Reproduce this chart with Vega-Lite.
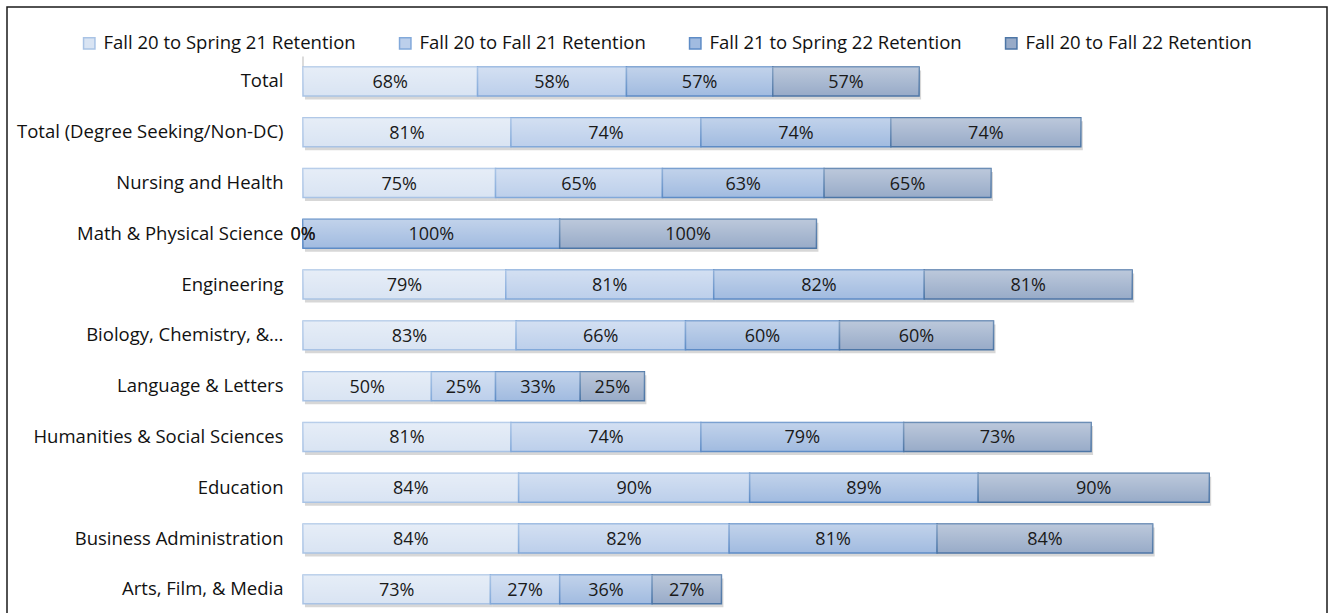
{
  "$schema": "https://vega.github.io/schema/vega-lite/v6.json",
  "width": 1320,
  "height": 638.5,
  "autosize": {"type": "none"},
  "padding": {"left": 7, "top": 7, "right": 3, "bottom": 0},
  "background": "white",
  "config": {
    "view": {"stroke": "#1a1a1a", "strokeWidth": 1.5},
    "font": "Open Sans"
  },
  "data": {
    "values": [
      {"cat": "Total", "series": "Fall 20 to Spring 21 Retention", "s": 1, "v": 0.68},
      {"cat": "Total", "series": "Fall 20 to Fall 21 Retention", "s": 2, "v": 0.58},
      {"cat": "Total", "series": "Fall 21 to Spring 22 Retention", "s": 3, "v": 0.57},
      {"cat": "Total", "series": "Fall 20 to Fall 22 Retention", "s": 4, "v": 0.57},
      {"cat": "Total (Degree Seeking/Non-DC)", "series": "Fall 20 to Spring 21 Retention", "s": 1, "v": 0.81},
      {"cat": "Total (Degree Seeking/Non-DC)", "series": "Fall 20 to Fall 21 Retention", "s": 2, "v": 0.74},
      {"cat": "Total (Degree Seeking/Non-DC)", "series": "Fall 21 to Spring 22 Retention", "s": 3, "v": 0.74},
      {"cat": "Total (Degree Seeking/Non-DC)", "series": "Fall 20 to Fall 22 Retention", "s": 4, "v": 0.74},
      {"cat": "Nursing and Health", "series": "Fall 20 to Spring 21 Retention", "s": 1, "v": 0.75},
      {"cat": "Nursing and Health", "series": "Fall 20 to Fall 21 Retention", "s": 2, "v": 0.65},
      {"cat": "Nursing and Health", "series": "Fall 21 to Spring 22 Retention", "s": 3, "v": 0.63},
      {"cat": "Nursing and Health", "series": "Fall 20 to Fall 22 Retention", "s": 4, "v": 0.65},
      {"cat": "Math & Physical Science", "series": "Fall 20 to Spring 21 Retention", "s": 1, "v": 0},
      {"cat": "Math & Physical Science", "series": "Fall 20 to Fall 21 Retention", "s": 2, "v": 0},
      {"cat": "Math & Physical Science", "series": "Fall 21 to Spring 22 Retention", "s": 3, "v": 1.0},
      {"cat": "Math & Physical Science", "series": "Fall 20 to Fall 22 Retention", "s": 4, "v": 1.0},
      {"cat": "Engineering", "series": "Fall 20 to Spring 21 Retention", "s": 1, "v": 0.79},
      {"cat": "Engineering", "series": "Fall 20 to Fall 21 Retention", "s": 2, "v": 0.81},
      {"cat": "Engineering", "series": "Fall 21 to Spring 22 Retention", "s": 3, "v": 0.82},
      {"cat": "Engineering", "series": "Fall 20 to Fall 22 Retention", "s": 4, "v": 0.81},
      {"cat": "Biology, Chemistry, &…", "series": "Fall 20 to Spring 21 Retention", "s": 1, "v": 0.83},
      {"cat": "Biology, Chemistry, &…", "series": "Fall 20 to Fall 21 Retention", "s": 2, "v": 0.66},
      {"cat": "Biology, Chemistry, &…", "series": "Fall 21 to Spring 22 Retention", "s": 3, "v": 0.60},
      {"cat": "Biology, Chemistry, &…", "series": "Fall 20 to Fall 22 Retention", "s": 4, "v": 0.60},
      {"cat": "Language & Letters", "series": "Fall 20 to Spring 21 Retention", "s": 1, "v": 0.50},
      {"cat": "Language & Letters", "series": "Fall 20 to Fall 21 Retention", "s": 2, "v": 0.25},
      {"cat": "Language & Letters", "series": "Fall 21 to Spring 22 Retention", "s": 3, "v": 0.33},
      {"cat": "Language & Letters", "series": "Fall 20 to Fall 22 Retention", "s": 4, "v": 0.25},
      {"cat": "Humanities & Social Sciences", "series": "Fall 20 to Spring 21 Retention", "s": 1, "v": 0.81},
      {"cat": "Humanities & Social Sciences", "series": "Fall 20 to Fall 21 Retention", "s": 2, "v": 0.74},
      {"cat": "Humanities & Social Sciences", "series": "Fall 21 to Spring 22 Retention", "s": 3, "v": 0.79},
      {"cat": "Humanities & Social Sciences", "series": "Fall 20 to Fall 22 Retention", "s": 4, "v": 0.73},
      {"cat": "Education", "series": "Fall 20 to Spring 21 Retention", "s": 1, "v": 0.84},
      {"cat": "Education", "series": "Fall 20 to Fall 21 Retention", "s": 2, "v": 0.90},
      {"cat": "Education", "series": "Fall 21 to Spring 22 Retention", "s": 3, "v": 0.89},
      {"cat": "Education", "series": "Fall 20 to Fall 22 Retention", "s": 4, "v": 0.90},
      {"cat": "Business Administration", "series": "Fall 20 to Spring 21 Retention", "s": 1, "v": 0.84},
      {"cat": "Business Administration", "series": "Fall 20 to Fall 21 Retention", "s": 2, "v": 0.82},
      {"cat": "Business Administration", "series": "Fall 21 to Spring 22 Retention", "s": 3, "v": 0.81},
      {"cat": "Business Administration", "series": "Fall 20 to Fall 22 Retention", "s": 4, "v": 0.84},
      {"cat": "Arts, Film, & Media", "series": "Fall 20 to Spring 21 Retention", "s": 1, "v": 0.73},
      {"cat": "Arts, Film, & Media", "series": "Fall 20 to Fall 21 Retention", "s": 2, "v": 0.27},
      {"cat": "Arts, Film, & Media", "series": "Fall 21 to Spring 22 Retention", "s": 3, "v": 0.36},
      {"cat": "Arts, Film, & Media", "series": "Fall 20 to Fall 22 Retention", "s": 4, "v": 0.27}
    ]
  },
  "encoding": {
    "y": {
      "field": "cat",
      "type": "nominal",
      "sort": ["Total", "Total (Degree Seeking/Non-DC)", "Nursing and Health", "Math & Physical Science", "Engineering", "Biology, Chemistry, &…", "Language & Letters", "Humanities & Social Sciences", "Education", "Business Administration", "Arts, Film, & Media"],
      "scale": {"paddingInner": 0.43, "paddingOuter": 1, "align": 0.59},
      "axis": {
        "title": null,
        "offset": -296,
        "domain": false,
        "ticks": false,
        "labelPadding": 20,
        "labelFontSize": 18.5,
        "labelColor": "#111111",
        "labelLimit": 400
      }
    }
  },
  "layer": [
    {
      "data": {"values": [{}]},
      "mark": {"type": "rule", "orient": "vertical", "color": "#d0d0d0", "strokeWidth": 1.5, "yOffset": -25},
      "encoding": {
        "x": {"datum": 0, "type": "quantitative", "scale": {"domain": [-1.153, 3.989], "nice": false, "zero": false}, "axis": null},
        "y": {"datum": "Total", "type": "nominal"}
      }
    },
    {
      "mark": {"type": "bar", "fill": "#8c8c8c", "opacity": 0.35, "yOffset": 3.5, "xOffset": 2, "strokeWidth": 0},
      "encoding": {
        "x": {"field": "v", "type": "quantitative", "stack": "zero", "scale": {"domain": [-1.153, 3.989], "nice": false, "zero": false}, "axis": null},
        "detail": {"field": "series"},
        "order": {"field": "s"}
      }
    },
    {
      "mark": {"type": "bar", "strokeWidth": 1.5},
      "encoding": {
        "x": {"field": "v", "type": "quantitative", "stack": "zero", "scale": {"domain": [-1.153, 3.989], "nice": false, "zero": false}, "axis": null},
        "color": {
          "field": "series",
          "type": "nominal",
          "scale": {
            "domain": ["Fall 20 to Spring 21 Retention", "Fall 20 to Fall 21 Retention", "Fall 21 to Spring 22 Retention", "Fall 20 to Fall 22 Retention"],
            "range": ["#d9e4f3", "#bccfeb", "#a1bbe0", "#98abc8"]
          },
          "legend": {
            "title": null,
            "orient": "none",
            "legendX": 73,
            "legendY": 27,
            "direction": "horizontal",
            "columns": 4,
            "columnPadding": 40,
            "symbolType": "square",
            "symbolSize": 130,
            "symbolStrokeWidth": 1.5,
            "labelFontSize": 18.5,
            "labelColor": "#111111",
            "labelOffset": 5,
            "labelLimit": 400
          }
        },
        "stroke": {
          "field": "series",
          "type": "nominal",
          "scale": {
            "domain": ["Fall 20 to Spring 21 Retention", "Fall 20 to Fall 21 Retention", "Fall 21 to Spring 22 Retention", "Fall 20 to Fall 22 Retention"],
            "range": ["#a9c3e5", "#82a9da", "#5e8cc6", "#4d76a6"]
          },
          "legend": {
            "title": null,
            "orient": "none",
            "legendX": 73,
            "legendY": 27,
            "direction": "horizontal",
            "columns": 4,
            "columnPadding": 40,
            "symbolType": "square",
            "symbolSize": 130,
            "symbolStrokeWidth": 1.5,
            "labelFontSize": 18.5,
            "labelColor": "#111111",
            "labelOffset": 5,
            "labelLimit": 400
          }
        },
        "order": {"field": "s"}
      }
    },
    {
      "mark": {
        "type": "bar",
        "strokeWidth": 0,
        "fill": {
          "gradient": "linear",
          "x1": 0, "y1": 0, "x2": 0, "y2": 1,
          "stops": [
            {"offset": 0, "color": "rgba(255,255,255,0.35)"},
            {"offset": 1, "color": "rgba(255,255,255,0)"}
          ]
        }
      },
      "encoding": {
        "x": {"field": "v", "type": "quantitative", "stack": "zero", "scale": {"domain": [-1.153, 3.989], "nice": false, "zero": false}, "axis": null},
        "detail": {"field": "series"},
        "order": {"field": "s"}
      }
    },
    {
      "mark": {"type": "text", "fontSize": 18, "color": "#1a1a1a", "baseline": "middle", "align": "center", "dy": 1.5},
      "encoding": {
        "x": {"field": "v", "type": "quantitative", "stack": "zero", "bandPosition": 0.5, "scale": {"domain": [-1.153, 3.989], "nice": false, "zero": false}, "axis": null},
        "detail": {"field": "series"},
        "order": {"field": "s"},
        "text": {"field": "v", "type": "quantitative", "format": ".0%"}
      }
    }
  ]
}
